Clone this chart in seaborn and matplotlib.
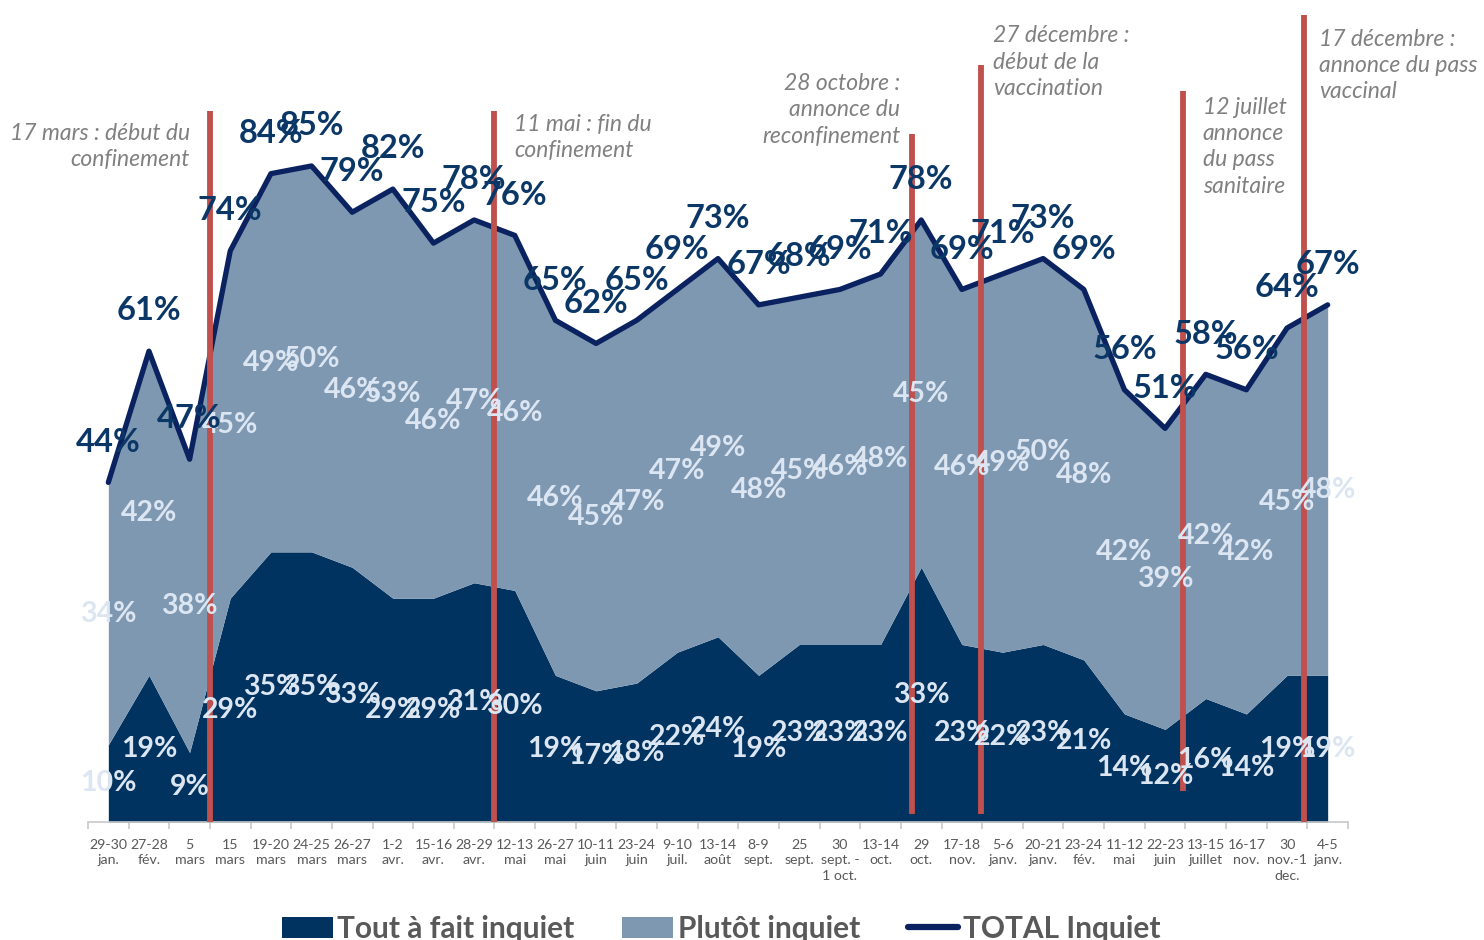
import matplotlib
matplotlib.use("Agg")
import matplotlib.pyplot as plt
from matplotlib.patches import Patch
from matplotlib.lines import Line2D
import seaborn as sns
import numpy as np
import pandas as pd

# ---------------- data ----------------
categories = [
    "29-30\njan.", "27-28\nfév.", "5\nmars", "15\nmars", "19-20\nmars", "24-25\nmars",
    "26-27\nmars", "1-2\navr.", "15-16\navr.", "28-29\navr.", "12-13\nmai", "26-27\nmai",
    "10-11\njuin", "23-24\njuin", "9-10\njuil.", "13-14\naoût", "8-9\nsept.", "25\nsept.",
    "30\nsept. -\n1 oct.", "13-14\noct.", "29\noct.", "17-18\nnov.", "5-6\njanv.",
    "20-21\njanv.", "23-24\nfév.", "11-12\nmai", "22-23\njuin", "13-15\njuillet",
    "16-17\nnov.", "30\nnov.-1\ndec.", "4-5\njanv.",
]
tout_a_fait = [10, 19, 9, 29, 35, 35, 33, 29, 29, 31, 30, 19, 17, 18, 22, 24, 19, 23,
               23, 23, 33, 23, 22, 23, 21, 14, 12, 16, 14, 19, 19]
plutot = [34, 42, 38, 45, 49, 50, 46, 53, 46, 47, 46, 46, 45, 47, 47, 49, 48, 45,
          46, 48, 45, 46, 49, 50, 48, 42, 39, 42, 42, 45, 48]
total = [44, 61, 47, 74, 84, 85, 79, 82, 75, 78, 76, 65, 62, 65, 69, 73, 67, 68,
         69, 71, 78, 69, 71, 73, 69, 56, 51, 58, 56, 64, 67]

# events: (x position, line bottom, line top, text, text x, text top, alignment)
event_x = [2.5, 9.49, 19.77, 21.47, 26.44, 29.42]
event_bottom = [0, 0, 1, 1, 4, 0]
event_top = [92.1, 92.1, 89.2, 98.1, 94.7, 104.5]
event_text = [
    "17 mars : début du\nconfinement",
    "11 mai : fin du\nconfinement",
    "28 octobre :\nannonce du\nreconfinement",
    "27 décembre :\ndébut de la\nvaccination",
    "12 juillet\nannonce\ndu pass\nsanitaire",
    "17 décembre :\nannonce du pass\nvaccinal",
]
event_text_x = [2.01, 9.98, 19.48, 21.77, 26.93, 29.79]
event_text_y = [90.6, 91.7, 97.0, 103.2, 93.9, 102.8]
event_ha = ["right", "left", "right", "left", "left", "left"]

series_names = ["Tout à fait inquiet", "Plutôt inquiet", "TOTAL Inquiet"]

# ---------------- style ----------------
sns.set_theme(style="white")
plt.rcParams["font.family"] = ["Lato", "DejaVu Sans"]

C_DARK = "#00335f"
C_LIGHT = "#7f98b2"
C_LINE = "#0a2260"
C_TOTAL_TXT = "#0b3767"
C_INNER_TXT = "#dce6f2"
C_RED = "#c0504d"
C_GRAY_TXT = "#595959"
C_ANN = "#808080"

fig = plt.figure(figsize=(14.84, 9.40), dpi=100)
ax = fig.add_axes([88 / 1484, 118 / 940, 1260 / 1484, 822 / 940])

x = np.arange(len(categories))
df = pd.DataFrame({"x": x, "total": total})

ax.stackplot(x, tout_a_fait, plutot, colors=[C_DARK, C_LIGHT], linewidth=0, zorder=1)
sns.lineplot(data=df, x="x", y="total", ax=ax, color=C_LINE, linewidth=3.8,
             zorder=3, legend=False)

ax.set_xlim(-0.5, len(categories) - 0.5)
ax.set_ylim(0, 106.5)

# inner labels
base = np.array(tout_a_fait)
for i in range(len(categories)):
    ax.text(x[i], tout_a_fait[i] / 2, f"{tout_a_fait[i]}%", ha="center", va="center",
            fontsize=20.5, fontweight="bold", color=C_INNER_TXT, zorder=5)
    ax.text(x[i], base[i] + plutot[i] / 2, f"{plutot[i]}%", ha="center", va="center",
            fontsize=20.5, fontweight="bold", color=C_INNER_TXT, zorder=5)
    ax.annotate(f"{total[i]}%", (x[i], total[i]), xytext=(0, 29),
                textcoords="offset points", ha="center", va="center",
                fontsize=23.5, fontweight="bold", color=C_TOTAL_TXT, zorder=6,
                annotation_clip=False)

# event lines and annotations
for ex, eb, et, txt, tx, ty, ha in zip(event_x, event_bottom, event_top, event_text,
                                       event_text_x, event_text_y, event_ha):
    ax.plot([ex, ex], [eb, et], color=C_RED, linewidth=4.2, solid_capstyle="butt",
            zorder=4, clip_on=False)
    ax.text(tx, ty, txt, ha=ha, va="top", fontsize=16.5, fontstyle="italic",
            color=C_ANN, linespacing=1.3, clip_on=False, zorder=6,
            multialignment=ha)

# axes styling
for s in ["top", "right", "left"]:
    ax.spines[s].set_visible(False)
ax.spines["bottom"].set_color("#c8c8c8")
ax.spines["bottom"].set_linewidth(1.2)
ax.set_yticks([])
ax.set_xticks(x)
ax.set_xticklabels(categories, fontsize=10.2, color=C_GRAY_TXT, linespacing=1.38)
ax.set_xticks(np.arange(-0.5, len(categories), 1.0), minor=True)
ax.tick_params(axis="x", which="major", length=0, pad=12)
ax.tick_params(axis="x", which="minor", length=5, width=1.2, color="#c8c8c8",
               direction="out", bottom=True)
ax.set_xlabel("")
ax.set_ylabel("")

handles = [
    Patch(facecolor=C_DARK, edgecolor="none"),
    Patch(facecolor=C_LIGHT, edgecolor="none"),
    Line2D([0], [0], color=C_LINE, linewidth=4.5, solid_capstyle="round"),
]
leg = fig.legend(handles, series_names, loc="center", bbox_to_anchor=(0.486, 0.012),
                 ncol=3, frameon=False, fontsize=21.5, handlelength=1.7,
                 handleheight=0.7, handletextpad=0.15, columnspacing=1.6)
for t in leg.get_texts():
    t.set_color(C_GRAY_TXT)
    t.set_fontweight("bold")

fig.savefig("out.png", dpi=100)
